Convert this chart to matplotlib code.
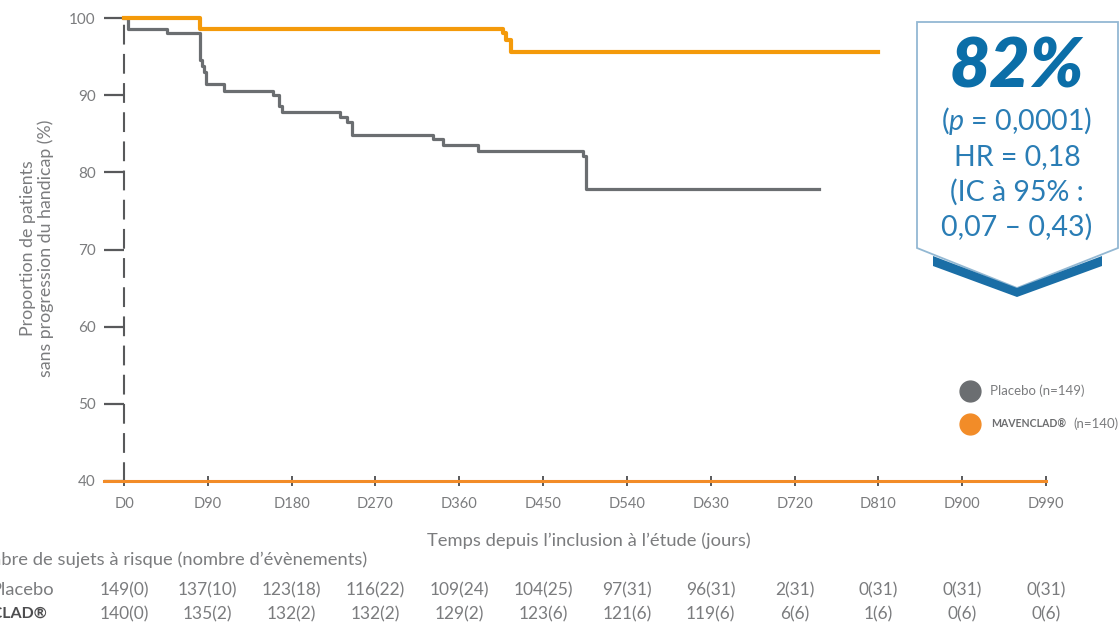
import matplotlib
matplotlib.use("Agg")
import matplotlib.pyplot as plt
import matplotlib.transforms as mtransforms
from matplotlib.patches import Polygon
from matplotlib.lines import Line2D

plt.rcParams["font.family"] = ["Lato", "DejaVu Sans"]
plt.rcParams["mathtext.fontset"] = "custom"
plt.rcParams["mathtext.rm"] = "Lato"
plt.rcParams["mathtext.it"] = "Lato:italic"

# Kaplan-Meier steps (day, % without progression)
placebo_days = [0, 4, 46, 82, 84, 86, 88, 107, 160, 166, 170, 232, 239, 245, 332, 342, 380, 493, 496, 746]
placebo_surv = [100, 98.6, 98.0, 94.5, 93.8, 93.0, 91.5, 90.6, 90.0, 88.6, 87.8, 87.2, 86.5, 84.9, 84.3, 83.5, 82.7, 82.1, 77.9, 77.9]
maven_days = [0, 82, 407, 410, 415, 810]
maven_surv = [100, 98.6, 98.0, 97.2, 95.6, 95.6]

tick_days = [0, 90, 180, 270, 360, 450, 540, 630, 720, 810, 900, 990]
tick_labels = ["D0", "D90", "D180", "D270", "D360", "D450", "D540", "D630", "D720", "D810", "D900", "D990"]
y_ticks = [40, 50, 60, 70, 80, 90, 100]

risk_placebo = ["149(0)", "137(10)", "123(18)", "116(22)", "109(24)", "104(25)",
                "97(31)", "96(31)", "2(31)", "0(31)", "0(31)", "0(31)"]
risk_maven = ["140(0)", "135(2)", "132(2)", "132(2)", "129(2)", "123(6)",
              "121(6)", "119(6)", "6(6)", "1(6)", "0(6)", "0(6)"]

grey = "#6b6e71"
orange = "#f49a0a"
axis_orange = "#f28c28"
text_grey = "#7b7c7e"
blue = "#0b6ea8"
light_blue = "#2a7db5"

W, H = 1119, 624


def fx(px):
    return px / W


def fy(py):
    return 1 - py / H


fig = plt.figure(figsize=(11.19, 6.24), dpi=100)
ax = fig.add_axes([fx(104), fy(481), fx(1046) - fx(104), fy(18) - fy(481)])

ax.step(placebo_days, placebo_surv, where="post", color=grey, lw=2.3, clip_on=False, zorder=3)
ax.step(maven_days, maven_surv, where="post", color=orange, lw=3.0, clip_on=False, zorder=4)

ax.set_xlim(-21.5, 990)
ax.set_ylim(40, 100)

# axes styling
for s in ["top", "right"]:
    ax.spines[s].set_visible(False)
ax.spines["left"].set_position(("data", 0))
ax.spines["left"].set_color("#58595b")
ax.spines["left"].set_linewidth(1.5)
ax.spines["left"].set_linestyle((0, (8.5, 5.5)))
ax.spines["left"].set_bounds(40, 100)
ax.spines["bottom"].set_color(axis_orange)
ax.spines["bottom"].set_linewidth(2.2)
ax.spines["bottom"].set_zorder(5)

ax.set_yticks(y_ticks)
ax.set_yticklabels([str(v) for v in y_ticks])
ax.tick_params(axis="y", direction="out", length=14.5, width=1.6, color="#58595b",
               labelsize=11, labelcolor=text_grey, pad=6)
ax.set_xticks(tick_days)
ax.set_xticklabels(tick_labels)
ax.tick_params(axis="x", direction="inout", length=7, width=1.4, color="#58595b",
               labelsize=10.5, labelcolor=text_grey, pad=8)

fig.text(fx(589), fy(541), "Temps depuis l\u2019inclusion \u00e0 l\u2019\u00e9tude (jours)",
         ha="center", va="center", fontsize=13.2, color=text_grey)
fig.text(fx(37), fy(248), "Proportion de patients\nsans progression du handicap (%)",
         ha="center", va="center", rotation=90, fontsize=12.8, color=text_grey,
         linespacing=1.1)

# number at risk table
fig.text(fx(367), fy(560), "Nombre de sujets \u00e0 risque (nombre d\u2019\u00e9v\u00e8nements)",
         ha="right", va="center", fontsize=13.2, color=text_grey)
fig.text(fx(54), fy(590), "Placebo", ha="right", va="center", fontsize=13.2, color=text_grey)
fig.text(fx(48), fy(614), "MAVENCLAD\u00ae", ha="right", va="center", fontsize=11.5,
         color="#4d4d4f", fontweight="bold")
tr = mtransforms.blended_transform_factory(ax.transData, fig.transFigure)
for d, a, b in zip(tick_days, risk_placebo, risk_maven):
    ax.text(d, fy(590), a, transform=tr, ha="center", va="center", fontsize=12.5, color=text_grey)
    ax.text(d, fy(614), b, transform=tr, ha="center", va="center", fontsize=12.5, color=text_grey)

# legend
fig.add_artist(Line2D([fx(970)], [fy(391)], marker="o", markersize=15, color=grey,
                      transform=fig.transFigure))
fig.add_artist(Line2D([fx(970)], [fy(424)], marker="o", markersize=15, color=axis_orange,
                      transform=fig.transFigure))
fig.text(fx(990), fy(391), "Placebo (n=149)", ha="left", va="center", fontsize=9.5, color=text_grey)
fig.text(fx(991), fy(424), "MAVENCLAD\u00ae", ha="left", va="center", fontsize=7.6,
         color="#6d6e70", fontweight="bold")
fig.text(fx(1118), fy(424), "(n=140)", ha="right", va="center", fontsize=9.5, color=text_grey)

# result badge
badge = Polygon([(fx(917), fy(22)), (fx(1118), fy(22)), (fx(1118), fy(248)),
                 (fx(1017), fy(288)), (fx(917), fy(248))], closed=True,
                transform=fig.transFigure, facecolor="white", edgecolor="#93b8d3", lw=1.3)
fig.add_artist(badge)
chevron = Polygon([(fx(933), fy(256)), (fx(1017), fy(288)), (fx(1102), fy(256)),
                   (fx(1102), fy(266)), (fx(1017), fy(297)), (fx(933), fy(266))],
                  closed=True, transform=fig.transFigure, facecolor="#1a6ea6", edgecolor="none")
fig.add_artist(chevron)

fig.text(fx(1017), fy(68), "82%", ha="center", va="center", fontsize=50,
         fontweight="heavy", fontstyle="italic", color=blue)
fig.text(fx(1017), fy(121), r"($\mathit{p}$ = 0,0001)", ha="center", va="center",
         fontsize=20.5, color=light_blue)
fig.text(fx(1017), fy(157), "HR = 0,18", ha="center", va="center",
         fontsize=20.5, color=light_blue)
fig.text(fx(1017), fy(192), "(IC \u00e0 95% :", ha="center", va="center",
         fontsize=20.5, color=light_blue)
fig.text(fx(1017), fy(227), "0,07 \u2013 0,43)", ha="center", va="center",
         fontsize=20.5, color=light_blue)

fig.savefig("out.png", dpi=100, facecolor="white")
